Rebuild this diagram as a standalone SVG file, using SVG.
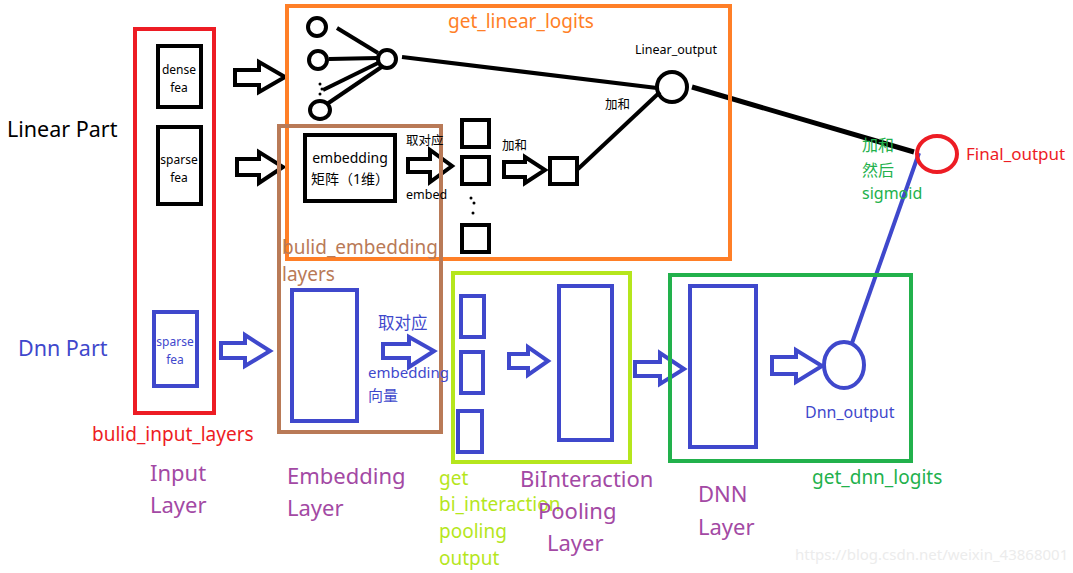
<svg xmlns="http://www.w3.org/2000/svg" width="1073" height="573" viewBox="0 0 1073 573">
<style>
text{font-family:"Noto Sans","Noto Sans CJK SC",sans-serif;}
.k{fill:none;stroke:#000;stroke-width:4}
.b{fill:none;stroke:#3f48cc;stroke-width:4}
.ka{fill:#fff;stroke:#000;stroke-width:4;stroke-linejoin:miter}
.ba{fill:#fff;stroke:#3f48cc;stroke-width:4;stroke-linejoin:miter}
.s{font-size:12px;text-anchor:middle}
.lbl{font-size:12.5px}
.big{font-size:21.5px}
.grp{font-size:19px}
.lay{font-size:22px;fill:#a349a4}
</style>
<rect width="1073" height="573" fill="#fff"/>
<g id="connectors">
<line x1="337" y1="28" x2="378" y2="53" class="k"/>
<line x1="329" y1="59" x2="378" y2="58" class="k"/>
<line x1="323" y1="90" x2="380" y2="62" class="k"/>
<line x1="327" y1="104" x2="383" y2="66" class="k"/>
<line x1="402" y1="57" x2="657" y2="88" class="k"/>
<line x1="692" y1="87" x2="914" y2="152" stroke="#000" stroke-width="5"/>
<line x1="578" y1="169" x2="660" y2="92" class="k"/>
<line x1="919" y1="153" x2="852" y2="343" stroke="#3f48cc" stroke-width="4"/>
<path class="ka" d="M235,70 H259 V62 L285,77 L259,92 V85 H235 Z"/>
<path class="ka" d="M237,159 H259 V152 L283,167 L259,183 V175 H237 Z"/>
<path class="ka" d="M408,159 H430 V150 L452,166 L430,182 V172 H408 Z"/>
<path class="ka" d="M504,162 H525 V157 L545,170 L525,183 V177 H504 Z"/>
<path class="ba" d="M221,343 H245 V335 L270,351 L245,366 V358 H221 Z"/>
<path class="ba" d="M383,344 H409 V337 L434,351 L409,367 V358 H383 Z"/>
<path class="ba" d="M509,354 H528 V347 L548,361 L528,375 V368 H509 Z"/>
<path class="ba" d="M635,362 H660 V353 L684,369 L660,384 V376 H635 Z"/>
<path class="ba" d="M772,357 H796 V350 L822,366 L796,382 V374 H772 Z"/>
</g>
<g id="input_layers">
<rect x="135" y="29" width="79" height="384" fill="none" stroke="#ed1c24" stroke-width="4"/>
<text x="92" y="441" class="grp" fill="#ed1c24">bulid_input_layers</text>
</g>
<g id="dense_fea">
<rect x="158" y="46" width="43" height="61" class="k"/>
<text x="179" y="74" class="s">dense</text>
<text x="179" y="92" class="s">fea</text>
</g>
<g id="sparse_fea">
<rect x="158" y="127" width="43" height="77" class="k"/>
<text x="179" y="164" class="s">sparse</text>
<text x="179" y="182" class="s">fea</text>
</g>
<g id="sparse_fea_dnn">
<rect x="154" y="312" width="43" height="74" class="b"/>
<text x="175" y="346" class="s" fill="#3f48cc">sparse</text>
<text x="175" y="364" class="s" fill="#3f48cc">fea</text>
</g>
<g id="part_labels">
<text x="7" y="137" class="big" fill="#000">Linear Part</text>
<text x="18" y="356" class="big" fill="#3f48cc">Dnn Part</text>
</g>
<g id="linear_logits">
<rect x="287" y="6" width="443" height="253" fill="none" stroke="#ff7f27" stroke-width="4"/>
<text x="448" y="28" class="grp" fill="#ff7f27">get_linear_logits</text>
</g>
<g id="dense_inputs">
<ellipse cx="317" cy="27" rx="9" ry="9" class="k"/>
<ellipse cx="318" cy="60" rx="9" ry="9" class="k"/>
<circle cx="320" cy="84" r="1.5" fill="#000"/>
<circle cx="322" cy="89" r="1.5" fill="#000"/>
<circle cx="320" cy="94" r="1.5" fill="#000"/>
<ellipse cx="320" cy="110" rx="10" ry="9" class="k"/>
<ellipse cx="387" cy="59" rx="9" ry="9" class="k"/>
</g>
<g id="linear_output">
<ellipse cx="672" cy="87" rx="15" ry="15" class="k"/>
<text x="635" y="54" font-size="12.5" fill="#000">Linear_output</text>
<text x="605" y="109" class="lbl" fill="#000">加和</text>
</g>
<g id="embedding_layers">
<rect x="279" y="126" width="162" height="306" fill="none" stroke="#b97a57" stroke-width="4"/>
<text x="282" y="254" class="grp" fill="#b97a57">bulid_embedding</text>
<text x="282" y="281" class="grp" fill="#b97a57">layers</text>
</g>
<g id="embedding_matrix">
<rect x="305" y="135" width="90" height="66" class="k"/>
<text x="350" y="163" font-size="14" text-anchor="middle">embedding</text>
<text x="350" y="184" font-size="14" text-anchor="middle">矩阵（1维）</text>
<text x="406" y="145" class="lbl">取对应</text>
<text x="406" y="199" class="lbl">embed</text>
</g>
<g id="embed_vectors">
<rect x="462" y="120" width="27" height="27" class="k"/>
<rect x="462" y="157" width="27" height="27" class="k"/>
<circle cx="471" cy="198" r="1.5" fill="#000"/>
<circle cx="474" cy="203" r="1.5" fill="#000"/>
<circle cx="473" cy="213" r="1.5" fill="#000"/>
<rect x="462" y="225" width="27" height="27" class="k"/>
<text x="502" y="150" class="lbl">加和</text>
</g>
<g id="linear_sum">
<rect x="550" y="158" width="27" height="26" class="k"/>
</g>
<g id="final_output">
<ellipse cx="937" cy="154" rx="20" ry="18" fill="none" stroke="#ed1c24" stroke-width="4"/>
<text x="966" y="160" font-size="17" fill="#ed1c24">Final_output</text>
<text x="862" y="151" font-size="16" fill="#22b14c">加和</text>
<text x="862" y="176" font-size="16" fill="#22b14c">然后</text>
<text x="862" y="199" font-size="16" fill="#22b14c">sigmoid</text>
</g>
<g id="embedding_dnn">
<rect x="292" y="290" width="65" height="131" class="b"/>
<text x="378" y="329" font-size="16.5" fill="#3f48cc">取对应</text>
<text x="368" y="378" font-size="15" fill="#3f48cc">embedding</text>
<text x="368" y="401" font-size="15" fill="#3f48cc">向量</text>
</g>
<g id="bi_interaction">
<rect x="453" y="273" width="177" height="189" fill="none" stroke="#b5e61d" stroke-width="4"/>
<rect x="461" y="296" width="23" height="41" class="b"/>
<rect x="461" y="352" width="22" height="41" class="b"/>
<rect x="458" y="411" width="24" height="41" class="b"/>
<rect x="559" y="286" width="53" height="154" class="b"/>
<text x="439" y="485" class="grp" fill="#b5e61d">get</text>
<text x="439" y="511" class="grp" fill="#b5e61d">bi_interaction</text>
<text x="439" y="538" class="grp" fill="#b5e61d">pooling</text>
<text x="439" y="565" class="grp" fill="#b5e61d">output</text>
</g>
<g id="dnn_logits">
<rect x="670" y="275" width="241" height="186" fill="none" stroke="#22b14c" stroke-width="4"/>
<rect x="690" y="286" width="66" height="161" class="b"/>
<ellipse cx="844" cy="365" rx="20" ry="23" class="b"/>
<text x="805" y="418" font-size="16" fill="#3f48cc">Dnn_output</text>
<text x="812" y="484" class="grp" fill="#22b14c">get_dnn_logits</text>
</g>
<g id="layer_labels">
<text x="150" y="481" class="lay">Input</text>
<text x="150" y="513" class="lay">Layer</text>
<text x="287" y="484" class="lay">Embedding</text>
<text x="287" y="516" class="lay">Layer</text>
<text x="520" y="487" class="lay">BiInteraction</text>
<text x="538" y="519" class="lay">Pooling</text>
<text x="547" y="551" class="lay">Layer</text>
<text x="698" y="502" class="lay">DNN</text>
<text x="698" y="535" class="lay">Layer</text>
</g>
<text x="795" y="560" font-size="15" fill="#ececec">https://blog.csdn.net/weixin_43868001</text>
</svg>
